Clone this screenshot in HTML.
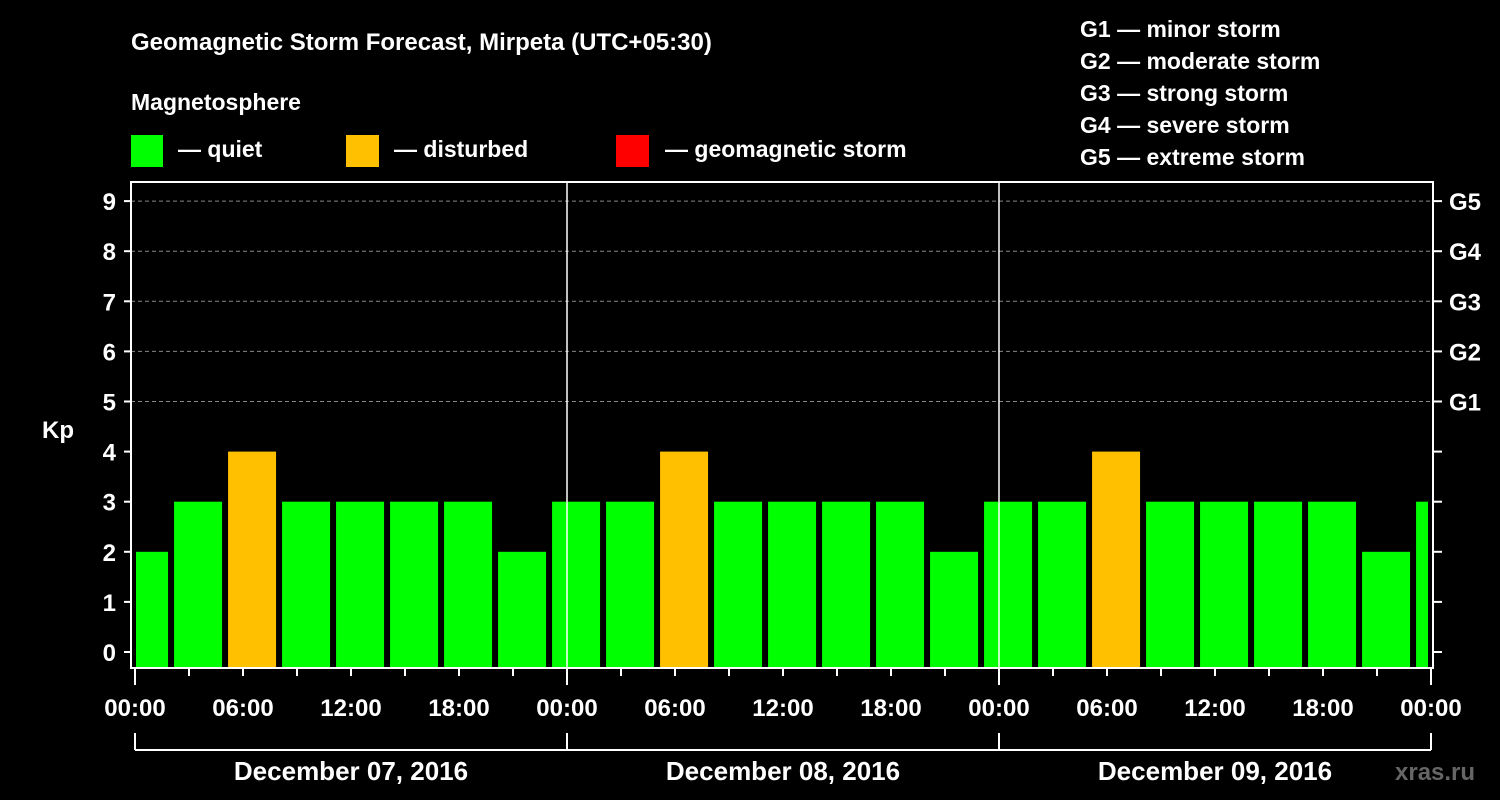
<!DOCTYPE html>
<html><head><meta charset="utf-8"><style>
body{margin:0;background:#000;width:1500px;height:800px;overflow:hidden}
svg{display:block}
text{font-family:"Liberation Sans",Arial,sans-serif;font-weight:bold;fill:#fff}
</style></head><body>
<svg id="chart" width="1500" height="800" viewBox="0 0 1500 800">
<text x="131" y="50" font-size="24">Geomagnetic Storm Forecast, Mirpeta (UTC+05:30)</text>
<text x="131" y="110" font-size="23">Magnetosphere</text>
<g>
<rect x="131" y="135" width="32" height="32" fill="#00ff00"/>
<text x="178" y="157" font-size="23">— quiet</text>
<rect x="346" y="135" width="33" height="32" fill="#ffc000"/>
<text x="394" y="157" font-size="23">— disturbed</text>
<rect x="616" y="135" width="33" height="32" fill="#ff0000"/>
<text x="665" y="157" font-size="23">— geomagnetic storm</text>
</g>
<g font-size="23">
<text x="1080" y="37">G1 — minor storm</text>
<text x="1080" y="69">G2 — moderate storm</text>
<text x="1080" y="101">G3 — strong storm</text>
<text x="1080" y="133">G4 — severe storm</text>
<text x="1080" y="165">G5 — extreme storm</text>
</g>
<text x="42" y="438" font-size="24">Kp</text>
<text x="1395" y="780" font-size="24" style="fill:#666">xras.ru</text>
<g id="plot"></g>
</svg>
<script>
const kpValues=[2,3,4,3,3,3,3,2,3,3,4,3,3,3,3,2,3,3,4,3,3,3,3,2,3];
const yTicks=[0,1,2,3,4,5,6,7,8,9];
const gLabels=["G1","G2","G3","G4","G5"];
const gLevels=[5,6,7,8,9];
const dayLabels=["December 07, 2016","December 08, 2016","December 09, 2016"];
const hourTicks=["00:00","06:00","12:00","18:00"];
const barStartHour=-0.83; // first bar start (hours, local)
const NS="http://www.w3.org/2000/svg";
const g=document.getElementById('plot');
const X0=135,PX_H=18,L=131,R=1433,T=182,B=668;
const xs=h=>X0+h*PX_H;
const ys=k=>652-k*50.1;
function el(t,a,parent){const e=document.createElementNS(NS,t);for(const k in a)e.setAttribute(k,a[k]);(parent||g).appendChild(e);return e;}
// grid
gLevels.forEach((k,i)=>{
 const ln=el('line',{x1:L,x2:R,y1:ys(k),y2:ys(k),stroke:'#888','stroke-dasharray':'4 3','stroke-width':1});
 
 
});
// bars
kpValues.forEach((v,i)=>{
 let x1=xs(barStartHour+i*3), x2=x1+48;
 x1=Math.max(x1,X0+1); x2=Math.min(x2,R-5);
 const c=v>=5?'#ff0000':(v>=4?'#ffc000':'#00ff00');
 const r=el('rect',{x:x1,y:ys(v),width:x2-x1,height:B-ys(v),fill:c});
 
 
});
// day separators
for(let d=1;d<3;d++){
 const ln=el('line',{x1:xs(d*24),x2:xs(d*24),y1:T,y2:B,stroke:'#fff','stroke-width':1.5});
 
 
}
// frame
const fr=el('rect',{x:L,y:T,width:R-L,height:B-T,fill:'none',stroke:'#fff','stroke-width':2});


// y ticks
yTicks.forEach(k=>{
 el('line',{x1:124,x2:L,y1:ys(k),y2:ys(k),stroke:'#fff','stroke-width':2});
 el('line',{x1:R,x2:1442,y1:ys(k),y2:ys(k),stroke:'#fff','stroke-width':2});
 const t=el('text',{x:116,y:ys(k)+9,'font-size':24,'text-anchor':'end'});t.textContent=k;
 
 
});
gLabels.forEach((s,i)=>{
 const t=el('text',{x:1449,y:ys(gLevels[i])+9,'font-size':24});t.textContent=s;
 
 
});
// x ticks
for(let h=0;h<=72;h+=3){
 const major=h%24===0;
 el('line',{x1:xs(h),x2:xs(h),y1:B,y2:major?685:676,stroke:'#fff','stroke-width':2});
}
for(let d=0;d<=3;d++){
 hourTicks.forEach((s,i)=>{
  if(d===3&&i>0)return;
  const t=el('text',{x:xs(d*24+i*6),y:716,'font-size':24,'text-anchor':'middle'});t.textContent=s;
  
  
 });
}
// day brackets
el('line',{x1:xs(0),x2:xs(72),y1:750,y2:750,stroke:'#fff','stroke-width':2});
for(let d=0;d<=3;d++) el('line',{x1:xs(d*24),x2:xs(d*24),y1:733,y2:750,stroke:'#fff','stroke-width':2});
dayLabels.forEach((s,d)=>{
 const t=el('text',{x:xs(d*24+12),y:780,'font-size':26,'text-anchor':'middle'});t.textContent=s;
 
 
});
</script>
</body></html>
